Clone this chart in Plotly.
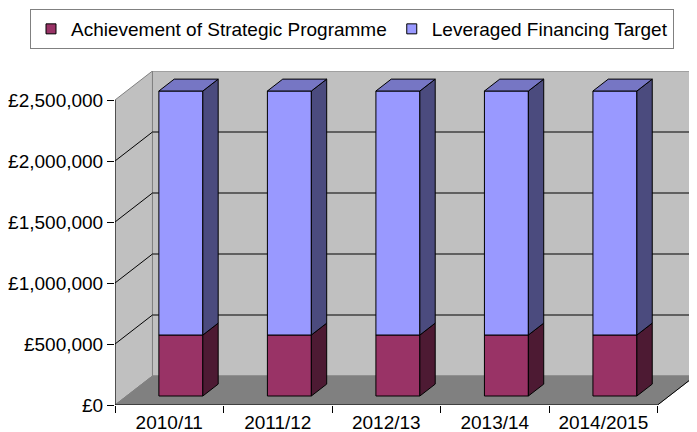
import plotly.graph_objects as go

# ---- data ----
categories = ['2010/11', '2011/12', '2012/13', '2013/14', '2014/2015']
achievement = [500000, 500000, 500000, 500000, 500000]
leveraged = [2000000, 2000000, 2000000, 2000000, 2000000]
series_names = ['Achievement of Strategic Programme', 'Leveraged Financing Target']
y_ticks = [0, 500000, 1000000, 1500000, 2000000, 2500000]
y_ticklabels = ['£{:,}'.format(v) for v in y_ticks]

# ---- 3D projection parameters ----
DX = 0.345          # depth offset in category units
DY = 237700         # depth offset in value units
F1, F2 = 0.31, 0.72  # bar front/back depth fractions
W = 0.405           # bar width in category units
YMAX = y_ticks[-1]
n = len(categories)
XL, XR = -0.5, n - 0.5

FONT = 'Liberation Sans, Arial, sans-serif'
FS = 19
OFF = 8  # default page body margin
FIG_W, FIG_H = 697 - OFF, 432 - OFF
ML, MT, MR, MB = 115 - OFF, 71 - OFF, 2, 27
PW, PH = FIG_W - ML - MR, FIG_H - MT - MB

fig = go.Figure()


def poly(xs, ys, fill, line='black', lw=1):
    fig.add_trace(go.Scatter(x=xs + [xs[0]], y=ys + [ys[0]], mode='lines', fill='toself',
                             fillcolor=fill, line=dict(color=line, width=lw),
                             showlegend=False, hoverinfo='skip'))


def seg(xs, ys, color, lw=1):
    fig.add_trace(go.Scatter(x=xs, y=ys, mode='lines', line=dict(color=color, width=lw),
                             showlegend=False, hoverinfo='skip'))


# walls and floor
poly([XL + DX, XR + DX, XR + DX, XL + DX], [DY, DY, YMAX + DY, YMAX + DY], '#c0c0c0', '#808080')
poly([XL, XL + DX, XL + DX, XL], [0, DY, YMAX + DY, YMAX], '#c0c0c0', '#808080')
poly([XL, XR, XR + DX, XL + DX], [0, 0, DY, DY], '#808080', '#808080')

# gridlines on back wall and side wall
gx, gy = [], []
for v in y_ticks[1:-1]:
    gx += [XL, XL + DX, XR + DX, None]
    gy += [v, v + DY, v + DY, None]
seg(gx, gy, 'black', 1)

# axis lines
seg([XL, XL], [0, YMAX], 'black', 1)
seg([XL, XR, XR + DX], [0, 0, DY], 'black', 1)

# bars
front_cols = ['#993366', '#9999ff']
side_cols = ['#4d1a33', '#4b4b7e']
top_cols = ['#6b2447', '#7676c4']
ddx = (F2 - F1) * DX
ddy = (F2 - F1) * DY
for i in range(n):
    xc = i + F1 * DX
    x0, x1 = xc - W / 2, xc + W / 2
    base = F1 * DY
    bounds = [(base, base + achievement[i]),
              (base + achievement[i], base + achievement[i] + leveraged[i])]
    for k, (ya, yb) in enumerate(bounds):
        poly([x0, x1, x1, x0], [ya, ya, yb, yb], front_cols[k])
        poly([x1, x1 + ddx, x1 + ddx, x1], [ya, ya + ddy, yb + ddy, yb], side_cols[k])
    yb = bounds[-1][1]
    poly([x0, x1, x1 + ddx, x0 + ddx], [yb, yb, yb + ddy, yb + ddy], top_cols[1])

# legend entries
for name, col in zip(series_names, front_cols):
    fig.add_trace(go.Scatter(x=[None], y=[None], mode='markers', name=name,
                             marker=dict(symbol='square', size=10, color=col,
                                         line=dict(color='black', width=1))))

leg_x = ((30 - OFF) - ML) / PW
leg_y = ((MT + PH) - (9 - OFF)) / PH

fig.update_layout(
    width=FIG_W, height=FIG_H,
    margin=dict(l=ML, r=MR, t=MT, b=MB, autoexpand=False),
    paper_bgcolor='white', plot_bgcolor='white',
    font=dict(family=FONT, size=FS, color='black'),
    showlegend=True,
    legend=dict(orientation='h', x=leg_x, xanchor='left', y=leg_y, yanchor='top',
                bordercolor='#808080', borderwidth=1, bgcolor='white',
                font=dict(family=FONT, size=FS), itemwidth=30,
                tracegroupgap=0, itemclick=False),
    xaxis=dict(range=[XL, XR + DX], showgrid=False, zeroline=False, showline=False,
               tickvals=list(range(n)), ticktext=categories, ticks='',
               ticklabelstandoff=4,
               minor=dict(tickvals=[i - 0.5 for i in range(n + 1)], ticks='outside',
                          ticklen=7, tickcolor='black', tickwidth=1, showgrid=False),
               fixedrange=True),
    yaxis=dict(range=[0, YMAX + DY], showgrid=False, zeroline=False, showline=False,
               tickvals=y_ticks, ticktext=y_ticklabels, ticks='outside', ticklen=7,
               tickcolor='black', tickwidth=1, fixedrange=True),
)

fig.write_html('out.html')
